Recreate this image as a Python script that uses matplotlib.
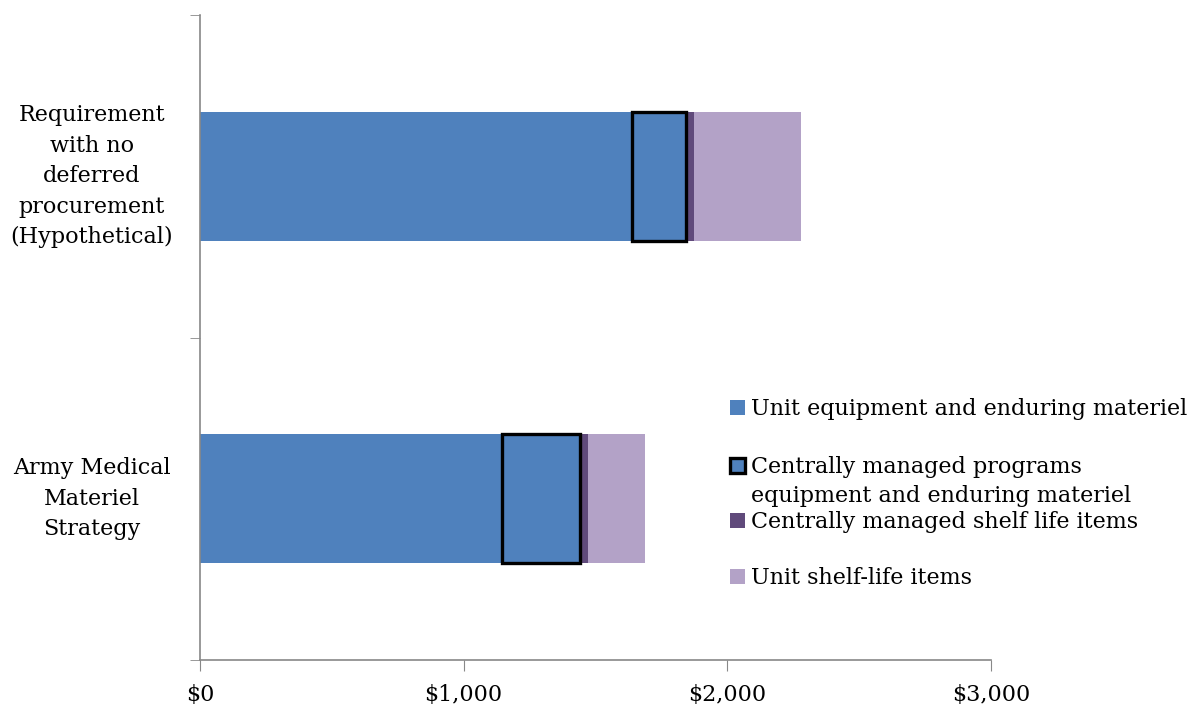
import matplotlib
matplotlib.use("Agg")
import matplotlib.pyplot as plt
from matplotlib.patches import Rectangle
from matplotlib.ticker import FuncFormatter

plt.rcParams['font.family'] = ['DejaVu Serif', 'Liberation Serif']

categories = ["Army Medical\nMateriel\nStrategy",
              "Requirement\nwith no\ndeferred\nprocurement\n(Hypothetical)"]
unit_equipment = [1146, 1637]
central_programs = [295, 205]
central_shelf = [29, 33]
unit_shelf = [216, 405]
series_names = ["Unit equipment and enduring materiel",
                "Centrally managed programs\nequipment and enduring materiel",
                "Centrally managed shelf life items",
                "Unit shelf-life items"]
x_ticks = [0, 1000, 2000, 3000]

c_blue = "#4F81BD"
c_dark = "#604A7B"
c_light = "#B3A2C7"

FS = 16
W, H = 1188, 707
fig = plt.figure(figsize=(W / 100, H / 100), dpi=100)
ax = fig.add_axes([200 / W, (H - 660) / H, (991 - 200) / W, (660 - 15) / H])

y = [0, 1]
h = 0.4
left = [0, 0]
ax.barh(y, unit_equipment, height=h, left=left, color=c_blue, zorder=2)
left = [a + b for a, b in zip(left, unit_equipment)]
ax.barh(y, central_programs, height=h, left=left, color=c_blue,
        edgecolor="black", linewidth=2.4, zorder=4)
left = [a + b for a, b in zip(left, central_programs)]
ax.barh(y, central_shelf, height=h, left=left, color=c_dark, zorder=3)
left = [a + b for a, b in zip(left, central_shelf)]
ax.barh(y, unit_shelf, height=h, left=left, color=c_light, zorder=3)

ax.set_xlim(0, 3000)
ax.set_ylim(-0.5, 1.5)
ax.set_xticks(x_ticks)
ax.xaxis.set_major_formatter(FuncFormatter(lambda v, p: "${:,.0f}".format(v)))
ax.set_yticks(y)
ax.set_yticklabels(categories, fontsize=FS, linespacing=1.5, ha="center", va="center")
ax.set_yticks([-0.5, 0.5, 1.5], minor=True)
ax.tick_params(axis="y", which="major", length=0, pad=78)
ax.tick_params(axis="y", which="minor", length=7, color="#888888", direction="out")
ax.tick_params(axis="x", length=8, color="#888888", labelsize=FS, pad=9)

for s in ["top", "right"]:
    ax.spines[s].set_visible(False)
for s in ["left", "bottom"]:
    ax.spines[s].set_color("#888888")
    ax.spines[s].set_linewidth(1.2)

# legend drawn manually
sq_x, sq_w = 730, 15
entries = [
    (415, c_blue, None, ["Unit equipment and enduring materiel"]),
    (473, c_blue, "black", ["Centrally managed programs", "equipment and enduring materiel"]),
    (528, c_dark, None, ["Centrally managed shelf life items"]),
    (584, c_light, None, ["Unit shelf-life items"]),
]
for (base, fc, ec, lines), name in zip(entries, series_names):
    if ec:
        r = Rectangle((sq_x / W, (H - base) / H), sq_w / W, sq_w / H,
                      transform=fig.transFigure, facecolor=fc, edgecolor=ec, linewidth=2.4)
    else:
        r = Rectangle((sq_x / W, (H - base) / H), sq_w / W, sq_w / H,
                      transform=fig.transFigure, facecolor=fc, edgecolor="none")
    fig.patches.append(r)
    for i, ln in enumerate(lines):
        fig.text(751 / W, (H - base - i * 29) / H, ln, fontsize=FS, va="baseline", ha="left")

fig.savefig("out.png", dpi=100)
